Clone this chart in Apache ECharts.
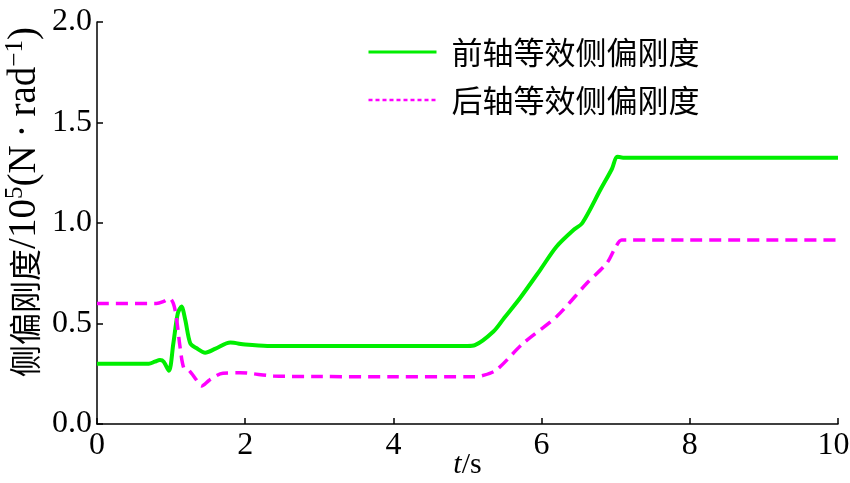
<!DOCTYPE html>
<html>
<head>
<meta charset="utf-8">
<script src="https://cdn.jsdelivr.net/npm/echarts@6/dist/echarts.min.js"></script>
<style>html,body{margin:0;padding:0;background:#fff;}#c{width:850px;height:483px;}</style>
</head>
<body>
<div id="c"></div>
<script>
var seriesNames = ['前轴等效侧偏刚度', '后轴等效侧偏刚度'];
var xTicks = [0, 2, 4, 6, 8, 10];
var yTicks = [0.0, 0.5, 1.0, 1.5, 2.0];

var frontT = [0, 0.7, 0.78, 0.85, 0.9, 0.97, 1.03, 1.09, 1.14, 1.19, 1.26, 1.34, 1.46, 1.6, 1.8, 2.0, 2.3, 3, 4, 5.0, 5.1, 5.35, 5.5, 5.71, 5.98, 6.2, 6.43, 6.55, 6.8, 6.95, 7.02, 7.1, 8, 10];
var frontV = [0.30, 0.30, 0.31, 0.318, 0.31, 0.265, 0.40, 0.55, 0.584, 0.52, 0.40, 0.378, 0.355, 0.375, 0.405, 0.395, 0.388, 0.388, 0.388, 0.388, 0.392, 0.46, 0.53, 0.627, 0.766, 0.882, 0.965, 1.0, 1.17, 1.27, 1.33, 1.325, 1.325, 1.325];

var rearT = [0, 0.8, 0.9, 0.98, 1.03, 1.07, 1.12, 1.17, 1.23, 1.28, 1.34, 1.41, 1.52, 1.7, 1.93, 2.38, 3, 4, 5.1, 5.2, 5.39, 5.75, 6.2, 6.61, 6.88, 6.99, 7.08, 7.2, 8, 10];
var rearV = [0.60, 0.60, 0.61, 0.625, 0.60, 0.534, 0.385, 0.28, 0.27, 0.25, 0.22, 0.189, 0.219, 0.253, 0.255, 0.239, 0.236, 0.235, 0.235, 0.24, 0.269, 0.401, 0.534, 0.70, 0.80, 0.874, 0.915, 0.915, 0.915, 0.915];

function pairs(t, v) { return t.map(function (x, i) { return [x, v[i]]; }); }

var serif = '"Liberation Serif", "Times New Roman", "Noto Sans CJK SC", serif';
var cjk = '"Noto Sans CJK SC", sans-serif';
var green = '#00ee00', magenta = '#ff00ff';
var xMax = xTicks[xTicks.length - 1];

var chart = echarts.init(document.getElementById('c'));
chart.setOption({
  animation: false,
  backgroundColor: '#fff',
  grid: { left: 97, right: 12, top: 22, bottom: 59, containLabel: false, outerBoundsMode: 'none' },
  legend: {
    orient: 'vertical',
    left: 367, top: 35, padding: 0,
    itemWidth: 68, itemHeight: 14, itemGap: 14,
    itemStyle: { opacity: 0 },
    data: [
      { name: seriesNames[0], lineStyle: { color: green, width: 3, type: 'solid' } },
      { name: seriesNames[1], lineStyle: { color: magenta, width: 2.5, type: [4, 3] } }
    ],
    textStyle: { fontFamily: cjk, fontSize: 31, color: '#000', padding: [0, 0, 0, 10], lineHeight: 34 }
  },
  xAxis: {
    type: 'value', min: xTicks[0], max: xMax, interval: 2,
    axisLine: { lineStyle: { color: '#000', width: 1.5 } },
    axisTick: { inside: true, length: 6, lineStyle: { color: '#000', width: 1.5 } },
    axisLabel: {
      fontFamily: serif, fontSize: 32, color: '#000', margin: 6,
      formatter: function (v) { return v === xMax ? '{r|' + v + '}' : String(v); },
      rich: { r: { fontFamily: serif, fontSize: 32, color: '#000', padding: [0, 9, 0, 0] } }
    },
    splitLine: { show: false },
    name: '{i|t}{a|/s}', nameLocation: 'middle', nameGap: 26, nameMoveOverlap: false,
    nameTextStyle: { rich: {
      i: { fontFamily: serif, fontStyle: 'italic', fontSize: 30, color: '#000', lineHeight: 30 },
      a: { fontFamily: serif, fontSize: 30, color: '#000', lineHeight: 30 }
    } }
  },
  yAxis: {
    type: 'value', min: yTicks[0], max: yTicks[yTicks.length - 1], interval: 0.5,
    axisLine: { show: true, lineStyle: { color: '#000', width: 1.5 } },
    axisTick: { show: true, inside: true, length: 6, lineStyle: { color: '#000', width: 1.5 } },
    axisLabel: { fontFamily: serif, fontSize: 32, color: '#000', margin: 5, formatter: function (v) { return v.toFixed(1); } },
    splitLine: { show: false },
    name: '{c|侧偏刚度}{a|/10}{s|5}{a|(N}{d|·}{a|rad}{s|−1}{a|)}', nameLocation: 'middle', nameRotate: 90, nameGap: 50, nameMoveOverlap: false,
    nameTextStyle: {
      padding: [0, 0, 0, 42],
      rich: {
        c: { fontFamily: cjk, fontSize: 32, color: '#000', lineHeight: 44 },
        a: { fontFamily: serif, fontSize: 39, color: '#000', lineHeight: 44 },
        d: { fontFamily: serif, fontSize: 39, color: '#000', lineHeight: 44, padding: [0, 8, 0, 8] },
        s: { fontFamily: serif, fontSize: 25, color: '#000', verticalAlign: 'top', lineHeight: 44, padding: [0, 0, 14, 0] }
      }
    }
  },
  series: [
    { name: seriesNames[0], type: 'line', data: pairs(frontT, frontV), showSymbol: false, symbol: 'none', smooth: 0.3,
      lineStyle: { color: green, width: 4 }, itemStyle: { color: green } },
    { name: seriesNames[1], type: 'line', data: pairs(rearT, rearV), showSymbol: false, symbol: 'none', smooth: 0.3,
      lineStyle: { color: magenta, width: 3.5, type: [12, 7] }, itemStyle: { color: magenta } }
  ]
});
</script>
</body>
</html>
